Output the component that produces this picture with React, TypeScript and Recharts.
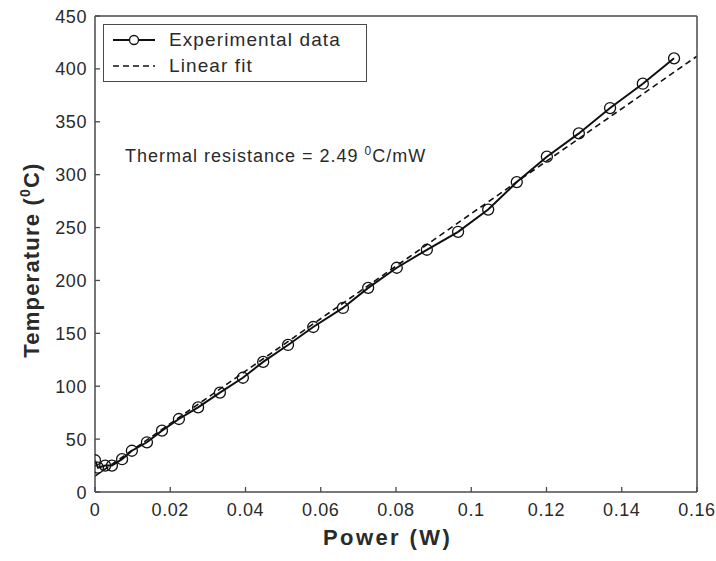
import { Line, LineChart, XAxis, YAxis } from "recharts";

const powerW = [
  0, 0.0008, 0.0027, 0.0045, 0.0072, 0.0098, 0.0138, 0.0178, 0.0223, 0.0274, 0.0332, 0.0393,
  0.0447, 0.0513, 0.058, 0.0659, 0.0726, 0.0802, 0.0882, 0.0965, 0.1045, 0.1121, 0.1201,
  0.1286, 0.1369, 0.1456, 0.1539,
];
const tempC = [
  30, 23, 25, 25, 31, 39, 47, 58, 69, 80, 94, 108, 123, 139, 156, 174, 193, 212, 229, 246, 267,
  293, 317, 339, 363, 386, 410,
];
const fitPower = [0, 0.16];
const fitTemp = [15, 412];

const xTicks = [0, 0.02, 0.04, 0.06, 0.08, 0.1, 0.12, 0.14, 0.16];
const yTicks = [0, 50, 100, 150, 200, 250, 300, 350, 400, 450];

const experimental = powerW.map((x, i) => ({ x, y: tempC[i] }));
const fit = fitPower.map((x, i) => ({ x, y: fitTemp[i] }));

const FONT = "'Liberation Sans', Arial, sans-serif";
const TEXT = "#2a2a2a";
const FRAME = "#4a4a4a";
const TICK_LEN = 5;

const BottomTick = (props: any) => {
  const { x, y, payload } = props;
  return (
    <g>
      <line x1={x} y1={y} x2={x} y2={y - TICK_LEN} stroke={FRAME} strokeWidth={1.3} />
      <text x={x} y={y + 24} textAnchor="middle" fontSize={18} letterSpacing={0.6} fill={TEXT} fontFamily={FONT}>
        {payload.value}
      </text>
    </g>
  );
};

const TopTick = (props: any) => {
  const { x, y } = props;
  return <line x1={x} y1={16} x2={x} y2={16 + TICK_LEN} stroke={FRAME} strokeWidth={1.3} />;
};

const LeftTick = (props: any) => {
  const { x, y, payload } = props;
  return (
    <g>
      <line x1={x} y1={y} x2={x + TICK_LEN} y2={y} stroke={FRAME} strokeWidth={1.3} />
      <text x={x - 8} y={y + 6.5} textAnchor="end" fontSize={18} letterSpacing={0.6} fill={TEXT} fontFamily={FONT}>
        {payload.value}
      </text>
    </g>
  );
};

const RightTick = (props: any) => {
  const { y } = props;
  return <line x1={697} y1={y} x2={697 - TICK_LEN} y2={y} stroke={FRAME} strokeWidth={1.3} />;
};

export default function App() {
  return (
    <div style={{ position: "absolute", left: 0, top: 0, width: 716, height: 561, background: "#fff" }}>
      <LineChart width={716} height={561} margin={{ top: 14, right: 17, bottom: 0, left: 0 }}>
        <XAxis
          type="number"
          dataKey="x"
          domain={[0, 0.16]}
          ticks={xTicks}
          interval={0}
          allowDataOverflow
          height={69}
          tickSize={0}
          tickMargin={0}
          tick={<BottomTick />}
          axisLine={{ stroke: FRAME, strokeWidth: 1.5 }}
        />
        <XAxis
          xAxisId="top"
          orientation="top"
          type="number"
          dataKey="x"
          domain={[0, 0.16]}
          ticks={xTicks}
          interval={0}
          height={2}
          tickSize={0}
          tickMargin={0}
          tick={<TopTick />}
          axisLine={{ stroke: FRAME, strokeWidth: 1.5 }}
        />
        <YAxis
          type="number"
          domain={[0, 450]}
          ticks={yTicks}
          interval={0}
          width={95}
          tickSize={0}
          tickMargin={0}
          tick={<LeftTick />}
          axisLine={{ stroke: FRAME, strokeWidth: 1.5 }}
        />
        <YAxis
          yAxisId="right"
          orientation="right"
          type="number"
          domain={[0, 450]}
          ticks={yTicks}
          interval={0}
          width={2}
          tickSize={0}
          tickMargin={0}
          tick={<RightTick />}
          axisLine={{ stroke: FRAME, strokeWidth: 1.5 }}
        />
        <Line
          data={fit}
          dataKey="y"
          type="linear"
          stroke="#111"
          strokeWidth={1.6}
          strokeDasharray="6 4"
          dot={false}
          activeDot={false}
          isAnimationActive={false}
        />
        <Line
          data={experimental}
          dataKey="y"
          type="linear"
          stroke="#111"
          strokeWidth={2}
          dot={{ r: 5.5, fill: "none", stroke: "#111", strokeWidth: 1.3 }}
          activeDot={false}
          isAnimationActive={false}
        />
      </LineChart>

      <div
        style={{
          position: "absolute",
          left: 103,
          top: 24,
          width: 264,
          height: 58,
          border: `1.5px solid ${FRAME}`,
          background: "#fff",
          boxSizing: "border-box",
          fontFamily: FONT,
          fontSize: 19,
          letterSpacing: 1.1,
          color: TEXT,
        }}
      >
        <svg width={60} height={56} style={{ position: "absolute", left: 0, top: 0 }}>
          <line x1={9} y1={15} x2={51} y2={15} stroke="#111" strokeWidth={2} />
          <circle cx={30} cy={15} r={4.5} fill="#fff" stroke="#111" strokeWidth={1.3} />
          <line x1={9} y1={41} x2={51} y2={41} stroke="#111" strokeWidth={1.6} strokeDasharray="6 4" />
        </svg>
        <div style={{ position: "absolute", left: 65, top: 4, whiteSpace: "nowrap" }}>Experimental data</div>
        <div style={{ position: "absolute", left: 65, top: 30, whiteSpace: "nowrap" }}>Linear fit</div>
      </div>

      <div
        style={{
          position: "absolute",
          left: 125,
          top: 144,
          fontFamily: FONT,
          fontSize: 18,
          letterSpacing: 1,
          color: TEXT,
          whiteSpace: "nowrap",
        }}
      >
        Thermal resistance = 2.49 <sup style={{ fontSize: 12 }}>0</sup>C/mW
      </div>

      <div
        style={{
          position: "absolute",
          left: 323,
          top: 525,
          fontFamily: FONT,
          fontSize: 22,
          fontWeight: "bold",
          letterSpacing: 2.4,
          color: TEXT,
          whiteSpace: "nowrap",
        }}
      >
        Power (W)
      </div>

      <div
        style={{
          position: "absolute",
          left: 31,
          top: 260,
          transform: "translate(-50%, -50%) rotate(-90deg)",
          fontFamily: FONT,
          fontSize: 22,
          fontWeight: "bold",
          letterSpacing: 1.2,
          color: TEXT,
          whiteSpace: "nowrap",
        }}
      >
        Temperature (<sup style={{ fontSize: 14 }}>0</sup>C)
      </div>
    </div>
  );
}
